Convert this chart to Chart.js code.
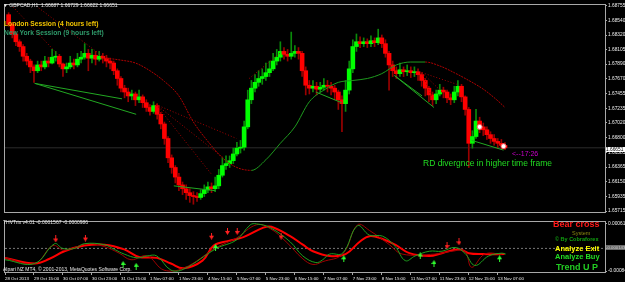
<!DOCTYPE html>
<html>
<head>
<meta charset="utf-8">
<script src="https://cdn.jsdelivr.net/npm/chart.js@4.4.0/dist/chart.umd.min.js"></script>
<style>
  html, body { margin: 0; padding: 0; background: #000; }
  #wrap { position: relative; width: 625px; height: 282px; overflow: hidden; background: #000;
          font-family: 'Liberation Sans', Arial, sans-serif; }
  canvas { position: absolute; left: 0; }
  #main { top: 0; }
  #sub { top: 217px; }
  .t { position: absolute; white-space: nowrap; line-height: 1; }
  .b { font-weight: bold; }
</style>
</head>
<body>
<div id="wrap">
  <canvas id="main" width="625" height="217" style="width:625px;height:217px"></canvas>
  <canvas id="sub" width="625" height="65" style="width:625px;height:65px"></canvas>

  <div class="t" style="left:3px;top:2.5px;font-size:5px;color:#e8e8e8">&#9660; GBPCAD,H1&nbsp; 1.66687 1.66729 1.66622 1.66651</div>
  <div class="t b" style="left:4px;top:21px;font-size:6.7px;color:#f2c400">London Session (4 hours left)</div>
  <div class="t b" style="left:4px;top:30px;font-size:6.7px;color:#2f9a6a">New York Session (9 hours left)</div>
  <div class="t" style="left:512px;top:149.5px;font-size:7px;color:#cc00cc">&lt;--17:26</div>
  <div class="t" style="left:423px;top:158.5px;font-size:8.5px;color:#22dd22">RD divergnce in higher time frame</div>
  <div class="t" style="left:606px;top:147px;width:19px;height:5px;background:#fff;color:#000;font-size:4.8px;line-height:5px">1.66651</div>

  <div class="t" style="left:3px;top:219.5px;font-size:5px;color:#e8e8e8">THVTrix v4.01 -0.0001567 -0.0000986</div>
  <div class="t" style="left:3px;top:267px;font-size:5px;color:#e8e8e8">Alpari NZ MT4, &copy; 2001-2013, MetaQuotes Software Corp.</div>
  <div class="t b" style="left:553px;top:219.5px;font-size:9px;color:#ff1a1a">Bear cross</div>
  <div class="t" style="left:572px;top:230.5px;font-size:5.5px;color:#8a8a10">System</div>
  <div class="t b" style="left:555px;top:236.5px;font-size:5.5px;color:#10a010">&copy; By Cobraforex</div>
  <div class="t b" style="left:555px;top:245px;font-size:7.5px;color:#ffff00">Analyze Exit</div>
  <div class="t b" style="left:555px;top:253px;font-size:7.5px;color:#22dd22">Analyze Buy</div>
  <div class="t b" style="left:556px;top:262.5px;font-size:9px;color:#22cc22">Trend U P</div>
  <div class="t" id="lvlBox" style="left:606px;top:244.5px;width:19px;height:5px;background:#6a6a6a;color:#cfcfcf;font-size:4.3px;line-height:5px"></div>
</div>

<script>
// ---------------------------------------------------------------------------
// Data (GBPCAD, 2-hour steps; x = bar index, 8 bars between date ticks)
// ---------------------------------------------------------------------------
const dateTicks = ['28 Oct 2013', '29 Oct 15:00', '30 Oct 07:00', '30 Oct 23:00', '31 Oct 15:00',
  '1 Nov 07:00', '1 Nov 23:00', '4 Nov 15:00', '5 Nov 07:00', '5 Nov 23:00', '6 Nov 15:00',
  '7 Nov 07:00', '7 Nov 23:00', '8 Nov 15:00', '11 Nov 07:00', '11 Nov 23:00', '12 Nov 15:00',
  '13 Nov 07:00'];
const priceTicks = [1.68755, 1.68540, 1.68320, 1.68105, 1.67890, 1.67670, 1.67455, 1.67235,
  1.67020, 1.66800, 1.66585, 1.66365, 1.66150, 1.65935, 1.65715];
const oscTicks = [0.000617, -0.000845];

const firstOpen = 1.68622;
const closes = [
  1.68479, 1.68336, 1.68221, 1.68150, 1.68006, 1.67935, 1.67849, 1.67792, 1.67878, 1.67849,
  1.67935, 1.67906, 1.67992, 1.68006, 1.67892, 1.67820, 1.67849, 1.67906, 1.67878, 1.67963,
  1.67992, 1.68049, 1.67978, 1.68021, 1.67963, 1.68006, 1.67978, 1.67935, 1.67906, 1.67792,
  1.67677, 1.67534, 1.67477, 1.67419, 1.67448, 1.67362, 1.67405, 1.67319, 1.67248, 1.67190,
  1.67276, 1.67147, 1.67004, 1.66789, 1.66503, 1.66360, 1.66218, 1.66102, 1.66045, 1.65987,
  1.65944, 1.65930, 1.65916, 1.65973, 1.66030, 1.66073, 1.66045, 1.66088, 1.66245, 1.66388,
  1.66417, 1.66460, 1.66560, 1.66646, 1.66660, 1.66961, 1.67362, 1.67534, 1.67620, 1.67677,
  1.67706, 1.67763, 1.67820, 1.67935, 1.67992, 1.68078, 1.68035, 1.68006, 1.68049, 1.68078,
  1.68049, 1.67792, 1.67577, 1.67534, 1.67562, 1.67519, 1.67548, 1.67577, 1.67562, 1.67534,
  1.67477, 1.67362, 1.67305, 1.67505, 1.67820, 1.68150, 1.68221, 1.68193, 1.68221, 1.68193,
  1.68236, 1.68207, 1.68278, 1.68193, 1.68049, 1.67878, 1.67792, 1.67749, 1.67806, 1.67777,
  1.67792, 1.67763, 1.67777, 1.67734, 1.67648, 1.67534, 1.67434, 1.67362, 1.67448, 1.67505,
  1.67477, 1.67391, 1.67362, 1.67477, 1.67562, 1.67405, 1.67219, 1.66718, 1.66818, 1.67047,
  1.66961, 1.66918, 1.66846, 1.66789, 1.66746, 1.66718, 1.66687, 1.66651];
const highs = [
  1.68651, 1.68508, 1.68364, 1.68250, 1.68178, 1.68049, 1.67963, 1.67878, 1.67935, 1.67935,
  1.68006, 1.67992, 1.68107, 1.68078, 1.68035, 1.67906, 1.67906, 1.68006, 1.67963, 1.68049,
  1.68078, 1.68193, 1.68107, 1.68107, 1.68078, 1.68078, 1.68049, 1.68021, 1.67978, 1.67935,
  1.67820, 1.67706, 1.67577, 1.67534, 1.67505, 1.67477, 1.67505, 1.67434, 1.67362, 1.67290,
  1.67333, 1.67305, 1.67176, 1.67033, 1.66818, 1.66546, 1.66388, 1.66274, 1.66145, 1.66102,
  1.66045, 1.66002, 1.65987, 1.66030, 1.66102, 1.66145, 1.66131, 1.66218, 1.66331, 1.66503,
  1.66531, 1.66531, 1.66646, 1.66732, 1.66761, 1.67047, 1.67505, 1.67648, 1.67734, 1.67792,
  1.67820, 1.67906, 1.67935, 1.68049, 1.68107, 1.68221, 1.68135, 1.68107, 1.68364, 1.68164,
  1.68135, 1.68078, 1.67849, 1.67648, 1.67648, 1.67620, 1.67620, 1.67677, 1.67648, 1.67620,
  1.67577, 1.67505, 1.67419, 1.67648, 1.67935, 1.68250, 1.68336, 1.68293, 1.68278, 1.68264,
  1.68307, 1.68278, 1.68407, 1.68321, 1.68250, 1.68078, 1.67935, 1.67849, 1.67906, 1.67849,
  1.67878, 1.67849, 1.67849, 1.67820, 1.67763, 1.67677, 1.67562, 1.67477, 1.67505, 1.67591,
  1.67548, 1.67505, 1.67448, 1.67562, 1.67648, 1.67591, 1.67419, 1.67248, 1.66904, 1.67219,
  1.67104, 1.67018, 1.66961, 1.66889, 1.66846, 1.66789, 1.66775, 1.66729];
const lows = [
  1.68450, 1.68278, 1.68164, 1.68078, 1.67935, 1.67878, 1.67763, 1.67620, 1.67763, 1.67792,
  1.67820, 1.67849, 1.67892, 1.67935, 1.67849, 1.67706, 1.67763, 1.67820, 1.67820, 1.67849,
  1.67906, 1.67963, 1.67792, 1.67906, 1.67878, 1.67935, 1.67906, 1.67849, 1.67820, 1.67734,
  1.67577, 1.67477, 1.67391, 1.67333, 1.67362, 1.67276, 1.67319, 1.67248, 1.67190, 1.67133,
  1.67162, 1.67076, 1.66932, 1.66703, 1.66431, 1.66274, 1.66131, 1.66016, 1.65959, 1.65887,
  1.65844, 1.65816, 1.65858, 1.65887, 1.65930, 1.65987, 1.65987, 1.66002, 1.66045, 1.66218,
  1.66331, 1.66360, 1.66417, 1.66531, 1.66574, 1.66617, 1.66932, 1.67305, 1.67477, 1.67562,
  1.67591, 1.67648, 1.67706, 1.67792, 1.67878, 1.67935, 1.67963, 1.67935, 1.67963, 1.67992,
  1.67963, 1.67706, 1.67434, 1.67448, 1.67477, 1.67434, 1.67477, 1.67505, 1.67477, 1.67434,
  1.67362, 1.67219, 1.66889, 1.67190, 1.67448, 1.67763, 1.68078, 1.68135, 1.68150, 1.68135,
  1.68150, 1.68150, 1.68178, 1.68135, 1.67992, 1.67505, 1.67706, 1.67677, 1.67706, 1.67706,
  1.67720, 1.67691, 1.67706, 1.67648, 1.67562, 1.67419, 1.67333, 1.67276, 1.67305, 1.67419,
  1.67391, 1.67319, 1.67290, 1.67319, 1.67419, 1.67333, 1.67133, 1.66360, 1.66646, 1.66789,
  1.66875, 1.66832, 1.66775, 1.66718, 1.66689, 1.66646, 1.66632, 1.66622];
const bidPrice = 1.66651;

// long-period curve (red falling / green rising)
const arcX = [28, 32, 36, 40, 44, 48, 52, 56, 60, 64, 68, 72, 76, 80, 84, 88, 92, 96, 100, 104,
  108, 112, 116, 120, 124, 128, 132, 136, 138];
const arcY = [1.67978, 1.67949, 1.67906, 1.67792, 1.67634, 1.67419, 1.67033, 1.66746, 1.66503,
  1.66360, 1.66317, 1.66474, 1.66718, 1.66961, 1.67333, 1.67505, 1.67620, 1.67648, 1.67677,
  1.67749, 1.67878, 1.67921, 1.67921, 1.67863, 1.67763, 1.67648, 1.67519, 1.67348, 1.67248];

// [x1, price1, x2, price2]
const greenLines = [
  [8.2, 1.67605, 32.3, 1.67376], [8.2, 1.67605, 36.2, 1.67147], [46.6, 1.66088, 58.1, 1.66016],
  [85.8, 1.67477, 92.9, 1.67319], [107.5, 1.67720, 118.4, 1.67248], [107.5, 1.67720, 115.1, 1.67419],
  [128.8, 1.66761, 137.6, 1.66617]];
const dottedLines = [
  [41.7, 1.67290, 63.9, 1.66789], [41.7, 1.67290, 60.3, 1.66503], [41.7, 1.67290, 57.0, 1.66259],
  [2.2, 1.68737, 14.3, 1.68049], [9.3, 1.68722, 28.0, 1.67963], [115.1, 1.67763, 124.7, 1.67591],
  [115.1, 1.67763, 120.6, 1.67477], [115.1, 1.67763, 117.9, 1.67391], [67.4, 1.67677, 76.5, 1.68078]];
const markers = [[131.0, 1.66961], [137.6, 1.66675]];

// THVTrix sub window: [bar, value]
const oscLevel = -0.000143;
const slowLine = [[0, -0.000436], [8.2, -0.000611], [12.3, -0.000465], [16.4, -0.000231],
  [21.9, -0.000056], [27.4, -0.000027], [32.9, -0.000173], [37.0, -0.000407], [41.9, -0.000436],
  [45.8, -0.000611], [49.3, -0.000757], [54.5, -0.000523], [57.6, -0.000056], [61.7, 0.000090],
  [65.8, 0.000207], [71.3, 0.000500], [73.5, 0.000529], [78.7, 0.000237], [82.2, -0.000027],
  [85.0, -0.000231], [89.6, -0.000377], [94.0, -0.000319], [97.9, 0.000061], [100.6, 0.000237],
  [104.2, 0.000149], [107.7, -0.000027], [111.6, -0.000290], [117.1, -0.000377], [120.6, -0.000290],
  [125.3, -0.000173], [128.0, -0.000290], [131.6, -0.000319], [137.9, -0.000319]];
const fastLine = [[0, -0.000494], [8.2, -0.000611], [13.7, 0.000003], [15.9, -0.000143],
  [19.2, -0.000143], [21.9, 0.000003], [27.4, -0.000027], [30.2, -0.000173], [32.9, -0.000319],
  [36.5, -0.000436], [39.2, -0.000377], [41.9, -0.000377], [45.8, -0.000816], [49.3, -0.000786],
  [58.4, -0.000143], [63.9, 0.000120], [67.7, 0.000587], [69.4, 0.000617], [73.2, 0.000500],
  [78.7, 0.000061], [82.2, -0.000377], [85.8, -0.000582], [87.7, -0.000494], [89.6, -0.000319],
  [93.2, -0.000290], [97.3, 0.000558], [100.6, 0.000266], [104.2, 0.000237], [107.7, -0.000085],
  [110.5, -0.000523], [113.2, -0.000377], [117.1, -0.000231], [120.6, -0.000231], [124.2, -0.000114],
  [126.9, -0.000290], [129.7, -0.000670], [133.5, -0.000377], [137.1, -0.000290], [138.2, -0.000319]];
const signalLine = [[0, -0.000436], [8.2, -0.000611], [13.2, -0.000056], [16.4, -0.000202],
  [22.8, 0.000003], [27.4, -0.000085], [31.5, -0.000290], [34.8, -0.000494], [39.2, -0.000377],
  [43.9, -0.000816], [49.3, -0.000757], [58.4, -0.000114], [63.9, 0.000178], [69.4, 0.000587],
  [73.2, 0.000470], [77.6, 0.000061], [82.2, -0.000465], [85.0, -0.000640], [87.7, -0.000553],
  [93.2, -0.000319], [97.3, 0.000587], [100.6, 0.000412], [106.1, -0.000027], [109.6, -0.000319],
  [118.7, -0.000319], [123.4, -0.000231], [126.9, -0.000231], [128.8, -0.000728], [132.4, -0.000319],
  [137.1, -0.000319]];
const downArrows = [[14.0, 0.000149], [22.2, 0.000178], [57.0, 0.000237], [61.4, 0.000383],
  [64.1, 0.000383], [76.2, 0.000237], [122.0, -0.000056], [125.3, 0.000061]];
const upArrows = [[32.6, -0.000640], [36.2, -0.000699], [58.1, -0.000114], [93.5, -0.000465],
  [114.6, -0.000377], [118.4, -0.000611], [136.5, -0.000465]];

// ---------------------------------------------------------------------------
// Scale ranges (fit the MT4 panels)
// ---------------------------------------------------------------------------
const X_MAX = 165.6;
const PRICE_MIN = 1.65701, PRICE_MAX = 1.68765;
const OSC_MIN = -0.000874, OSC_MAX = 0.000675;

Chart.defaults.font.family = "'Liberation Sans', Arial, sans-serif";
const AXIS = '#a8a8a8';
const FONT = { size: 4.8, family: "'Liberation Sans', Arial, sans-serif" };
const XFONT = { size: 4.4, family: "'Liberation Sans', Arial, sans-serif" };

const framePlugin = {
  id: 'frame',
  afterDraw(chart) {
    const { ctx, chartArea: a } = chart;
    ctx.save();
    ctx.strokeStyle = AXIS;
    ctx.lineWidth = 1;
    ctx.strokeRect(a.left - 0.5, a.top - 0.5, a.right - a.left + 1, a.bottom - a.top + 1);
    ctx.restore();
  },
};

const pts = arr => arr.map(([x, y]) => ({ x, y }));
const seg = (l, color, dash) => ({
  type: 'line', data: [{ x: l[0], y: l[1] }, { x: l[2], y: l[3] }],
  borderColor: color, borderWidth: 1, borderDash: dash || [], pointRadius: 0, order: 2,
});

// ---------------------------------------------------------------------------
// Main price window
// ---------------------------------------------------------------------------
const opens = closes.map((c, i) => (i ? closes[i - 1] : firstOpen));
const isUp = closes.map((c, i) => c >= opens[i]);

new Chart(document.getElementById('main'), {
  type: 'bar',
  data: {
    datasets: [
      {
        type: 'line', data: [{ x: 0, y: bidPrice }, { x: X_MAX, y: bidPrice }],
        borderColor: '#2c2c2c', borderWidth: 1, pointRadius: 0, order: 20,
      },
      {
        data: lows.map((l, i) => ({ x: i + 1, y: [l, highs[i]] })),
        backgroundColor: isUp.map(u => (u ? '#0a8a0a' : '#9a0000')),
        barThickness: 1, grouped: false, order: 6,
      },
      {
        data: closes.map((c, i) => ({ x: i + 1, y: [opens[i], c] })),
        backgroundColor: isUp.map(u => (u ? '#00ff00' : '#ff0000')),
        barThickness: 4, minBarLength: 1, grouped: false, order: 5,
      },
      {
        type: 'line', data: arcX.map((x, i) => ({ x, y: arcY[i] })),
        borderWidth: 1, pointRadius: 0, tension: 0.4, cubicInterpolationMode: 'monotone', order: 3,
        segment: {
          borderColor: c => (c.p1.parsed.y >= c.p0.parsed.y ? '#1e9a1e' : '#b00000'),
          borderDash: c => (c.p1.parsed.y >= c.p0.parsed.y ? [] : [2, 1]),
        },
      },
      ...greenLines.map(l => seg(l, '#22a822')),
      ...dottedLines.map(l => seg(l, '#a00000', [1, 2])),
      {
        type: 'line', data: pts(markers), showLine: false, pointRadius: 2.5,
        pointBackgroundColor: '#ffffff', pointBorderColor: '#ff6060', pointBorderWidth: 1, order: 1,
      },
    ],
  },
  options: {
    responsive: false, animation: false, devicePixelRatio: 1,
    layout: { padding: { top: 2, left: 1, right: 0, bottom: 1 } },
    plugins: { legend: { display: false }, tooltip: { enabled: false } },
    scales: {
      x: { type: 'linear', min: 0, max: X_MAX, offset: false, display: false },
      y: {
        type: 'linear', position: 'right', min: PRICE_MIN, max: PRICE_MAX,
        afterBuildTicks: s => { s.ticks = priceTicks.map(v => ({ value: v })); },
        afterFit: s => { s.width = 20; s.paddingTop = 0; s.paddingBottom = 0; },
        ticks: { color: '#f0f0f0', font: FONT, padding: 1, callback: v => v.toFixed(5) },
        grid: { drawOnChartArea: false, tickLength: 2, color: AXIS },
        border: { color: AXIS },
      },
    },
  },
  plugins: [framePlugin],
});

// ---------------------------------------------------------------------------
// THVTrix sub window
// ---------------------------------------------------------------------------
function arrowImg(color, down) {
  const c = document.createElement('canvas');
  c.width = 5; c.height = 7;
  const g = c.getContext('2d');
  g.fillStyle = color;
  g.beginPath();
  if (down) {
    g.fillRect(2, 0, 1, 4);
    g.moveTo(0, 3); g.lineTo(5, 3); g.lineTo(2.5, 7);
  } else {
    g.fillRect(2, 3, 1, 4);
    g.moveTo(0, 4); g.lineTo(5, 4); g.lineTo(2.5, 0);
  }
  g.fill();
  return c;
}

document.getElementById('lvlBox').textContent = oscLevel.toFixed(6);

new Chart(document.getElementById('sub'), {
  type: 'line',
  data: {
    datasets: [
      {
        data: [{ x: 0, y: oscLevel }, { x: X_MAX, y: oscLevel }],
        borderColor: '#777777', borderWidth: 1, borderDash: [2, 2], pointRadius: 0, order: 9,
      },
      { data: pts(slowLine), borderColor: '#ff0000', borderWidth: 2, pointRadius: 0, tension: 0.4, order: 8 },
      { data: pts(signalLine), borderColor: '#a00000', borderWidth: 1, pointRadius: 0, tension: 0.4, order: 7 },
      { data: pts(fastLine), borderColor: '#1ea01e', borderWidth: 1, pointRadius: 0, tension: 0.4, order: 6 },
      { data: pts(downArrows), showLine: false, pointStyle: arrowImg('#ff2020', true), order: 1 },
      { data: pts(upArrows), showLine: false, pointStyle: arrowImg('#30ff30', false), order: 1 },
    ],
  },
  options: {
    responsive: false, animation: false, devicePixelRatio: 1,
    layout: { padding: { top: 2, left: 1, right: 0, bottom: 0 } },
    plugins: { legend: { display: false }, tooltip: { enabled: false } },
    scales: {
      x: {
        type: 'linear', min: 0, max: X_MAX,
        afterBuildTicks: s => { s.ticks = dateTicks.map((t, i) => ({ value: i * 8 })); },
        afterFit: s => { s.height = 10; s.paddingLeft = 0; s.paddingRight = 0; },
        ticks: {
          color: '#f0f0f0', font: XFONT, padding: 1, align: 'start', maxRotation: 0, autoSkip: false,
          callback: (v, i) => dateTicks[i],
        },
        grid: { drawOnChartArea: false, tickLength: 3, color: AXIS },
        border: { color: AXIS },
      },
      y: {
        type: 'linear', position: 'right', min: OSC_MIN, max: OSC_MAX,
        afterBuildTicks: s => { s.ticks = oscTicks.map(v => ({ value: v })); },
        afterFit: s => { s.width = 20; s.paddingTop = 0; s.paddingBottom = 0; },
        ticks: { color: '#f0f0f0', font: FONT, padding: 1, callback: v => v.toFixed(6) },
        grid: { drawOnChartArea: false, tickLength: 2, color: AXIS },
        border: { color: AXIS },
      },
    },
  },
  plugins: [framePlugin],
});
</script>
</body>
</html>
